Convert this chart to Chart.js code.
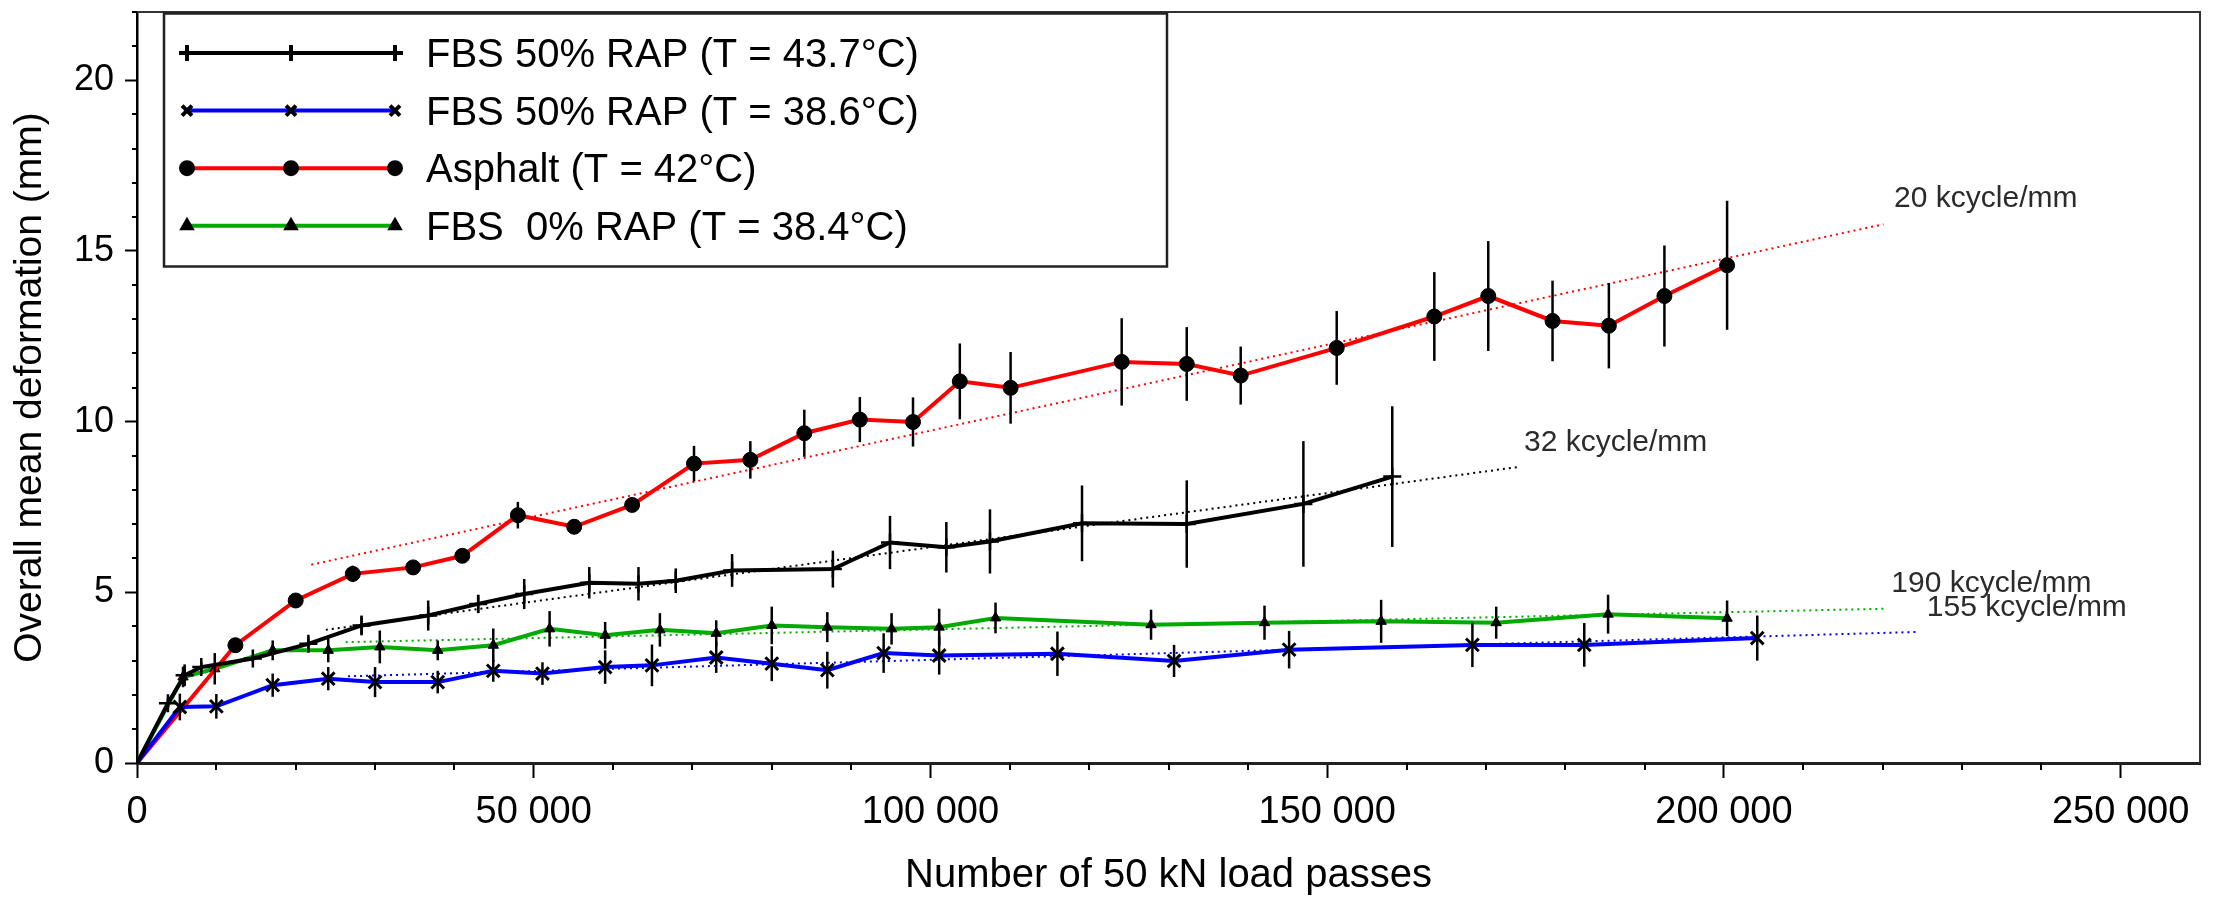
<!DOCTYPE html>
<html>
<head>
<meta charset="utf-8">
<script src="https://cdn.jsdelivr.net/npm/chart.js@4.4.1/dist/chart.umd.min.js"></script>
<style>
html, body { margin: 0; padding: 0; background: #fff; }
</style>
</head>
<body>
<canvas id="rut" width="2221" height="898"></canvas>
<script>
// load passes / mean deformation (mm) / half error bar (mm)
var passesFbs437 = [0, 3900, 6000, 8100, 14600, 21600, 28300, 36700, 43000, 48800, 57000, 63200, 67900, 75000, 87700, 94900, 102000, 107500, 119100, 132300, 147000, 158200];
var defFbs437 = [0, 1.75, 2.57, 2.81, 3.06, 3.49, 4.03, 4.32, 4.66, 4.95, 5.28, 5.25, 5.34, 5.64, 5.68, 6.46, 6.32, 6.49, 7.02, 7.0, 7.59, 8.39];
var errFbs437 = [0, 0.15, 0.32, 0.15, 0.1, 0.2, 0.29, 0.44, 0.27, 0.44, 0.46, 0.49, 0.36, 0.48, 0.54, 0.78, 0.74, 0.94, 1.11, 1.28, 1.84, 2.06];

var passesFbs386 = [0, 5400, 10000, 17100, 24100, 30000, 37900, 44900, 51100, 59000, 64900, 73000, 80000, 87000, 94100, 101100, 116000, 130700, 145200, 168300, 182400, 204200];
var defFbs386 = [0, 1.64, 1.66, 2.28, 2.47, 2.37, 2.37, 2.70, 2.62, 2.81, 2.86, 3.09, 2.91, 2.72, 3.22, 3.15, 3.20, 2.99, 3.32, 3.46, 3.46, 3.66];
var errFbs386 = [0, 0.39, 0.36, 0.34, 0.34, 0.44, 0.33, 0.32, 0.33, 0.49, 0.61, 0.45, 0.51, 0.54, 0.58, 0.56, 0.65, 0.47, 0.55, 0.65, 0.64, 0.66];

var passesAsphalt = [0, 12400, 20000, 27200, 34800, 41000, 48000, 55100, 62400, 70200, 77300, 84100, 91100, 97800, 103700, 110100, 124100, 132300, 139100, 151200, 163500, 170300, 178400, 185500, 192500, 200400];
var defAsphalt = [0, 3.45, 4.76, 5.54, 5.73, 6.07, 7.26, 6.92, 7.56, 8.77, 8.88, 9.66, 10.06, 9.99, 11.18, 10.99, 11.75, 11.69, 11.35, 12.16, 13.08, 13.68, 12.95, 12.81, 13.68, 14.58];
var errAsphalt = [0, 0.1, 0.15, 0.24, 0.15, 0.15, 0.39, 0.15, 0.2, 0.52, 0.55, 0.69, 0.66, 0.72, 1.11, 1.05, 1.28, 1.08, 0.85, 1.08, 1.30, 1.61, 1.18, 1.25, 1.48, 1.89];

var passesFbs0 = [0, 5800, 9800, 17100, 24100, 30600, 37900, 44900, 52000, 59000, 65900, 73000, 80000, 87000, 95100, 101100, 108200, 127800, 142100, 156800, 171300, 185400, 200400];
var defFbs0 = [0, 2.52, 2.76, 3.30, 3.30, 3.40, 3.30, 3.45, 3.93, 3.74, 3.90, 3.80, 4.03, 3.98, 3.93, 3.98, 4.25, 4.05, 4.11, 4.15, 4.11, 4.36, 4.24];
var errFbs0 = [0, 0.3, 0.46, 0.29, 0.35, 0.48, 0.29, 0.49, 0.52, 0.39, 0.49, 0.38, 0.55, 0.44, 0.46, 0.54, 0.45, 0.44, 0.5, 0.63, 0.47, 0.57, 0.52];

// linear trend lines: [start, end] passes and deformation
var trendAsphaltX = [21960, 220100], trendAsphaltY = [5.81, 15.78];
var trendFbs437X = [23800, 174000], trendFbs437Y = [3.90, 8.67];
var trendFbs0X = [26300, 220500], trendFbs0Y = [3.54, 4.52];
var trendFbs386X = [26600, 224600], trendFbs386Y = [2.54, 3.84];

var rateTexts = ['20 kcycle/mm', '32 kcycle/mm', '190 kcycle/mm', '155 kcycle/mm'];
var rateX = [221450, 174800, 221100, 225570];
var rateY = [16.28, 9.14, 5.02, 4.31];

var seriesLabels = ['FBS 50% RAP (T = 43.7°C)', 'FBS 50% RAP (T = 38.6°C)', 'Asphalt (T = 42°C)', 'FBS  0% RAP (T = 38.4°C)'];
var xMajorTicks = [0, 50000, 100000, 150000, 200000, 250000];
var yMajorTicks = [0, 5, 10, 15, 20];

var FONT = "'Liberation Sans', Arial, sans-serif";

function pts(xs, ys) {
    return xs.map(function (x, i) { return { x: x, y: ys[i] }; });
}

function series(label, xs, ys, errs, color, style, radius, bw) {
    return {
        label: label,
        data: pts(xs, ys),
        errors: errs,
        showLine: true,
        borderColor: color,
        borderWidth: 4,
        pointStyle: style,
        pointRadius: function (c) { return c.dataIndex === 0 ? 3 : radius; },
        pointBackgroundColor: '#000',
        pointBorderColor: '#000',
        pointBorderWidth: bw,
        order: 1
    };
}

function trend(xs, ys, color) {
    return {
        data: pts(xs, ys),
        showLine: true,
        borderColor: color,
        borderWidth: 2,
        borderDash: [2, 4],
        pointRadius: 0,
        order: 5
    };
}

var errorBars = {
    id: 'errorBars',
    afterDatasetsDraw: function (chart) {
        var ctx = chart.ctx, xs = chart.scales.x, ys = chart.scales.y;
        ctx.save();
        ctx.strokeStyle = '#000';
        ctx.lineWidth = 2.5;
        chart.data.datasets.forEach(function (ds) {
            if (!ds.errors) return;
            ds.data.forEach(function (p, i) {
                var e = ds.errors[i];
                if (!e) return;
                var px = xs.getPixelForValue(p.x);
                ctx.beginPath();
                ctx.moveTo(px, ys.getPixelForValue(p.y - e));
                ctx.lineTo(px, ys.getPixelForValue(p.y + e));
                ctx.stroke();
            });
        });
        ctx.restore();
    }
};

var frameAndLabels = {
    id: 'frameAndLabels',
    afterDraw: function (chart) {
        var ctx = chart.ctx, a = chart.chartArea, xs = chart.scales.x, ys = chart.scales.y;
        ctx.save();
        // top and right frame
        ctx.strokeStyle = '#333';
        ctx.lineWidth = 2;
        ctx.beginPath();
        ctx.moveTo(a.left, a.top);
        ctx.lineTo(a.right, a.top);
        ctx.lineTo(a.right, a.bottom);
        ctx.stroke();
        // minor ticks
        ctx.strokeStyle = '#000';
        ctx.lineWidth = 2;
        ctx.beginPath();
        for (var v = 10000; v < 260000; v += 10000) {
            if (v % 50000 === 0) continue;
            var px = Math.round(xs.getPixelForValue(v));
            ctx.moveTo(px, a.bottom);
            ctx.lineTo(px, a.bottom + 7);
        }
        for (var w = 1; w <= 22; w++) {
            if (w % 5 === 0) continue;
            var py = Math.round(ys.getPixelForValue(w));
            ctx.moveTo(a.left, py);
            ctx.lineTo(a.left - 5, py);
        }
        ctx.stroke();

        // rate labels
        ctx.fillStyle = '#2b2b2b';
        ctx.font = '30px ' + FONT;
        ctx.textBaseline = 'alphabetic';
        ctx.textAlign = 'left';
        rateTexts.forEach(function (t, i) {
            ctx.fillText(t, xs.getPixelForValue(rateX[i]), ys.getPixelForValue(rateY[i]));
        });

        // legend box
        ctx.strokeStyle = '#222';
        ctx.lineWidth = 2.5;
        ctx.strokeRect(164, 13.5, 1003, 253);
        ctx.font = '40px ' + FONT;
        for (var k = 0; k < 4; k++) {
            var ds = chart.data.datasets[k];
            var y = 53 + k * 57.6;
            ctx.strokeStyle = ds.borderColor;
            ctx.lineWidth = 4;
            ctx.beginPath();
            ctx.moveTo(187, y);
            ctx.lineTo(395, y);
            ctx.stroke();
            ctx.strokeStyle = '#000';
            ctx.fillStyle = '#000';
            [187, 291, 395].forEach(function (mx) {
                Chart.helpers.drawPoint(ctx, {
                    pointStyle: ds.pointStyle,
                    radius: ds._legendRadius,
                    borderWidth: ds.pointBorderWidth,
                    rotation: 0
                }, mx, y);
            });
            ctx.fillStyle = '#000';
            ctx.fillText(seriesLabels[k], 426, y + 14);
        }
        ctx.restore();
    }
};

var dsBlack = series(seriesLabels[0], passesFbs437, defFbs437, errFbs437, '#000000', 'cross', 9, 2.5);
var dsBlue = series(seriesLabels[1], passesFbs386, defFbs386, errFbs386, '#0000ff', 'crossRot', 9, 3);
var dsRed = series(seriesLabels[2], passesAsphalt, defAsphalt, errAsphalt, '#ff0000', 'circle', 7.5, 1);
var dsGreen = series(seriesLabels[3], passesFbs0, defFbs0, errFbs0, '#00aa00', 'triangle', 6, 1);
dsBlack._legendRadius = 8;
dsBlue._legendRadius = 7;
dsRed._legendRadius = 6;
dsGreen._legendRadius = 5;

var ctx = document.getElementById('rut').getContext('2d');
var rutChart = new Chart(ctx, {
    type: 'scatter',
    data: {
        datasets: [
            dsBlack, dsBlue, dsRed, dsGreen,
            trend(trendAsphaltX, trendAsphaltY, '#ff0000'),
            trend(trendFbs437X, trendFbs437Y, '#000000'),
            trend(trendFbs0X, trendFbs0Y, '#00aa00'),
            trend(trendFbs386X, trendFbs386Y, '#0000ff')
        ]
    },
    options: {
        responsive: false,
        animation: false,
        layout: { padding: { top: 7, right: 21, bottom: 0, left: 0 } },
        plugins: {
            legend: { display: false },
            tooltip: { enabled: false }
        },
        scales: {
            x: {
                type: 'linear',
                min: 0,
                max: 260000,
                afterBuildTicks: function (s) { s.ticks = xMajorTicks.map(function (v) { return { value: v }; }); },
                afterFit: function (s) {
                    s.height = 135;
                    s.paddingLeft = 0;
                    s.paddingRight = 0;
                },
                ticks: {
                    maxRotation: 0,
                    autoSkip: false,
                    padding: 12,
                    color: '#000',
                    font: { family: FONT, size: 38 },
                    callback: function (v) { return String(v).replace(/\B(?=(\d{3})+(?!\d))/g, ' '); }
                },
                grid: { drawOnChartArea: false, drawTicks: true, tickLength: 15, tickWidth: 2, tickColor: '#000' },
                border: { display: true, color: '#222', width: 3 },
                title: {
                    display: true,
                    text: 'Number of 50 kN load passes',
                    color: '#000',
                    font: { family: FONT, size: 40, lineHeight: 1.1 },
                    padding: { top: 0, bottom: 0 }
                }
            },
            y: {
                type: 'linear',
                min: 0,
                max: 22,
                afterBuildTicks: function (s) { s.ticks = yMajorTicks.map(function (v) { return { value: v }; }); },
                afterFit: function (s) {
                    s.width = 137;
                    s.paddingTop = 0;
                    s.paddingBottom = 0;
                },
                ticks: {
                    padding: 11,
                    color: '#000',
                    font: { family: FONT, size: 36 }
                },
                grid: { drawOnChartArea: false, drawTicks: true, tickLength: 12, tickWidth: 2, tickColor: '#000' },
                border: { display: true, color: '#000', width: 2.5 },
                title: {
                    display: true,
                    text: 'Overall mean deformation (mm)',
                    color: '#000',
                    font: { family: FONT, size: 39, lineHeight: 1.2 },
                    padding: { top: 7, bottom: 0 }
                }
            }
        }
    },
    plugins: [errorBars, frameAndLabels]
});
</script>
</body>
</html>
